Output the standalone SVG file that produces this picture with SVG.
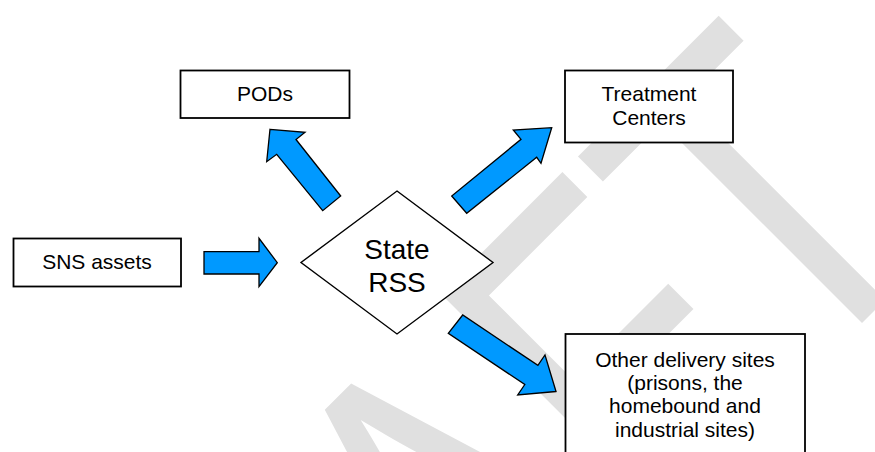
<svg xmlns="http://www.w3.org/2000/svg" width="875" height="452" viewBox="0 0 875 452">
  <style>
    .box { fill: #ffffff; stroke: #000000; stroke-width: 1.8; }
    .dia { fill: #ffffff; stroke: #000000; stroke-width: 1.4; }
    .lbl { font-family: "Liberation Sans", Arial, sans-serif; font-size: 21px; fill: #000000; text-anchor: middle; }
    .big { font-size: 28px; }
    .arrow { fill: #0099ff; stroke: #000000; stroke-width: 1.3; stroke-linejoin: miter; }
    .wm { font-family: "Liberation Sans", Arial, sans-serif; font-size: 463px; fill: #e0e0e0; }
  </style>

  <rect width="875" height="452" fill="#ffffff"/>

  <!-- diagonal page watermark, behind everything -->
  <g id="watermark">
    <text class="wm" transform="translate(120.3,1064.7) rotate(-45) scale(0.76,1)">DRAFT</text>
  </g>

  <!-- block arrows -->
  <g id="connectors">
    <polygon id="arrow-sns-rss" class="arrow" points="204,251.7 259,251.7 259,238.3 277.3,262.7 259,286.7 259,274 204,274"/>
    <polygon id="arrow-rss-pods" class="arrow" points="270,129.3 305,132.3 296,139.5 340.7,196 322.7,210.7 276.7,154.3 266.7,161.7"/>
    <polygon id="arrow-rss-treatment" class="arrow" points="551.7,127.7 541,163.3 536.7,157.3 466.7,213.3 451.7,196 521,139.3 513.3,130"/>
    <polygon id="arrow-rss-other" class="arrow" points="556,391.5 517.7,395 524.8,384.5 448.3,333.3 462.7,315 537.9,365.4 545,355"/>
  </g>

  <g id="node-pods">
    <rect class="box" x="180.5" y="70.5" width="169" height="47.5"/>
    <text class="lbl" x="265" y="101">PODs</text>
  </g>

  <g id="node-treatment">
    <rect class="box" x="565" y="70.5" width="168" height="72"/>
    <text class="lbl" x="649" y="101">Treatment</text>
    <text class="lbl" x="649" y="124.5">Centers</text>
  </g>

  <g id="node-sns">
    <rect class="box" x="13.5" y="238.5" width="167.5" height="48"/>
    <text class="lbl" x="97" y="269">SNS assets</text>
  </g>

  <g id="node-rss">
    <polygon class="dia" points="397,191 493,262.5 397,334 301,262.5"/>
    <text class="lbl big" x="397" y="258.5">State</text>
    <text class="lbl big" x="397" y="292">RSS</text>
  </g>

  <g id="node-other">
    <rect class="box" x="565.5" y="334" width="239.5" height="130"/>
    <text class="lbl" x="685" y="366.5">Other delivery sites</text>
    <text class="lbl" x="685" y="389.9">(prisons, the</text>
    <text class="lbl" x="685" y="413.3">homebound and</text>
    <text class="lbl" x="685" y="436.7">industrial sites)</text>
  </g>
</svg>
